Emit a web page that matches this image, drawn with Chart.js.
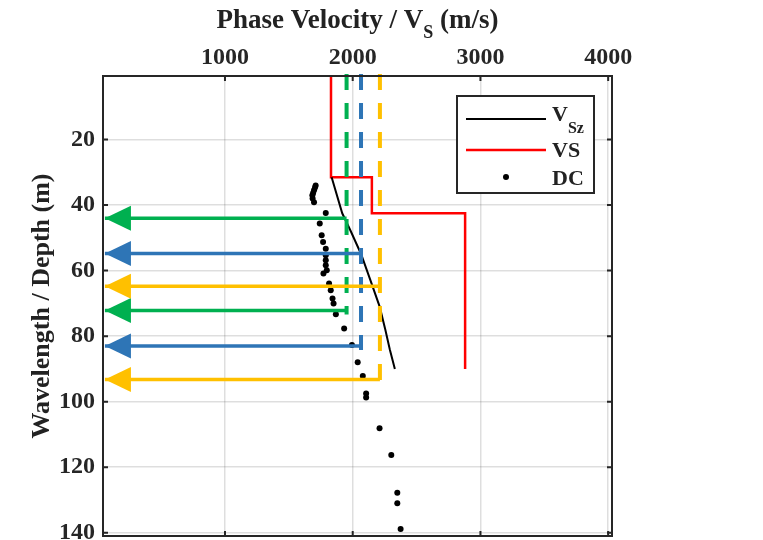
<!DOCTYPE html>
<html lang="en">
<head>
<meta charset="UTF-8">
<title>Phase Velocity / Wavelength</title>
<script src="https://cdn.jsdelivr.net/npm/chart.js"></script>
<style>
  body { margin: 0; background: #fff; overflow: hidden; }
  canvas { display: block; }
</style>
</head>
<body>
<canvas id="chart" width="763" height="540"></canvas>
<script>
// axis ticks
const velocityTicks = [1000, 2000, 3000, 4000];
const depthTicks = [20, 40, 60, 80, 100, 120, 140];

// VS step profile
const vsVelocity = [1830, 1830, 2150, 2150, 2880, 2880];
const vsDepth = [0.6, 31.5, 31.5, 42.5, 42.5, 90];

// VSz curve
const vszVelocity = [1835, 1918, 1985, 2066, 2139, 2211, 2255, 2290, 2330];
const vszDepth = [31.5, 42.5, 48, 55, 63, 71, 78, 84, 90];

// DC points
const dcVelocity = [1710, 1705, 1697, 1690, 1684, 1686, 1697, 1789, 1742, 1757, 1768, 1789, 1789, 1789,
  1789, 1797, 1771, 1815, 1828, 1842, 1850, 1868, 1933, 1994, 2039, 2079, 2105, 2105, 2210, 2302,
  2349, 2349, 2375];
const dcDepth = [34.0, 34.6, 35.5, 36.3, 37.0, 38.0, 39.1, 42.4, 45.6, 49.2, 51.3, 53.3, 55.3, 56.8,
  58.4, 59.9, 60.9, 63.9, 66.0, 68.5, 70.0, 73.3, 77.7, 82.7, 88.0, 92.2, 97.5, 98.7, 108.1, 116.3,
  127.8, 131.0, 138.9];

// guide lines: green, blue, yellow
const guideColors = ['#00b050', '#2e75b6', '#ffc000'];
const guideVelocity = [1952, 2065, 2213];
const guideArrowDepths = [[44, 72.2], [54.8, 83], [64.8, 93.2]];
const arrowTipVelocity = 60;

const FONT = "'Liberation Serif', 'Times New Roman', serif";
const INK = '#262626';

const pts = (xs, ys) => xs.map((x, i) => ({ x: x, y: ys[i] }));

const datasets = [
  { label: 'VS', data: pts(vsVelocity, vsDepth), showLine: true, borderColor: '#ff0000',
    borderWidth: 2.5, pointRadius: 0, order: 5 },
  { label: 'VSz', data: pts(vszVelocity, vszDepth), showLine: true, borderColor: '#000',
    borderWidth: 2, pointRadius: 0, order: 4 },
  { label: 'DC', data: pts(dcVelocity, dcDepth), showLine: false, backgroundColor: '#000',
    borderWidth: 0, pointRadius: 3, order: 3 }
];

guideVelocity.forEach((v, i) => {
  const depths = guideArrowDepths[i];
  const bottom = depths[depths.length - 1] + 1.2;
  datasets.push({
    label: 'guide' + i, data: [{ x: v, y: 0 }, { x: v, y: bottom }], showLine: true,
    borderColor: guideColors[i], borderWidth: 4, borderDash: [16, 13], pointRadius: 0,
    clip: false, order: 2
  });
  depths.forEach(d => {
    datasets.push({
      label: 'arrow' + i, data: [{ x: v, y: d }, { x: arrowTipVelocity, y: d }], showLine: true,
      borderColor: guideColors[i], borderWidth: 3.5, pointRadius: 0, arrowHead: true, order: 1
    });
  });
});

// arrowheads, frame with inward ticks, axis titles, legend
const decorations = {
  id: 'decorations',
  afterDatasetsDraw(chart) {
    const ctx = chart.ctx;
    chart.data.datasets.forEach((ds, i) => {
      if (!ds.arrowHead) return;
      const tip = chart.getDatasetMeta(i).data[1];
      ctx.save();
      ctx.fillStyle = ds.borderColor;
      ctx.beginPath();
      ctx.moveTo(tip.x, tip.y);
      ctx.lineTo(tip.x + 26, tip.y - 12.5);
      ctx.lineTo(tip.x + 26, tip.y + 12.5);
      ctx.closePath();
      ctx.fill();
      ctx.restore();
    });
  },
  afterDraw(chart) {
    const ctx = chart.ctx;
    const a = chart.chartArea;
    const xs = chart.scales.x, ys = chart.scales.y;
    ctx.save();

    // frame
    ctx.strokeStyle = INK;
    ctx.lineWidth = 2;
    ctx.strokeRect(a.left, a.top, a.right - a.left, a.bottom - a.top);
    ctx.beginPath();
    velocityTicks.forEach(v => {
      const px = xs.getPixelForValue(v);
      ctx.moveTo(px, a.top); ctx.lineTo(px, a.top + 5);
      ctx.moveTo(px, a.bottom); ctx.lineTo(px, a.bottom - 5);
    });
    depthTicks.forEach(d => {
      const py = ys.getPixelForValue(d);
      ctx.moveTo(a.left, py); ctx.lineTo(a.left + 5, py);
      ctx.moveTo(a.right, py); ctx.lineTo(a.right - 5, py);
    });
    ctx.stroke();

    // top title with subscript
    ctx.fillStyle = '#222';
    ctx.textBaseline = 'alphabetic';
    const main = 'Phase Velocity / V', tail = ' (m/s)', sub = 'S';
    ctx.font = 'bold 27px ' + FONT;
    const w1 = ctx.measureText(main).width, w3 = ctx.measureText(tail).width;
    ctx.font = 'bold 18px ' + FONT;
    const w2 = ctx.measureText(sub).width;
    let x = (a.left + a.right) / 2 - (w1 + w2 + w3) / 2;
    ctx.font = 'bold 27px ' + FONT;
    ctx.textAlign = 'left';
    ctx.fillText(main, x, 28);
    ctx.font = 'bold 18px ' + FONT;
    ctx.fillText(sub, x + w1, 38);
    ctx.font = 'bold 27px ' + FONT;
    ctx.fillText(tail, x + w1 + w2, 28);

    // left title
    ctx.save();
    ctx.translate(42, (a.top + a.bottom) / 2);
    ctx.rotate(-Math.PI / 2);
    ctx.textAlign = 'center';
    ctx.textBaseline = 'middle';
    ctx.font = 'bold 26px ' + FONT;
    ctx.fillText('Wavelength / Depth (m)', 0, 0);
    ctx.restore();

    // legend
    const bx = a.right - 155, by = a.top + 20, bw = 137, bh = 97;
    ctx.fillStyle = '#fff';
    ctx.fillRect(bx, by, bw, bh);
    ctx.strokeStyle = INK;
    ctx.lineWidth = 2;
    ctx.strokeRect(bx, by, bw, bh);
    const rows = [by + 23, by + 54, by + 81];
    ctx.lineWidth = 2;
    ctx.strokeStyle = '#000';
    ctx.beginPath(); ctx.moveTo(bx + 9, rows[0]); ctx.lineTo(bx + 89, rows[0]); ctx.stroke();
    ctx.strokeStyle = '#ff0000';
    ctx.lineWidth = 2.5;
    ctx.beginPath(); ctx.moveTo(bx + 9, rows[1]); ctx.lineTo(bx + 89, rows[1]); ctx.stroke();
    ctx.fillStyle = '#000';
    ctx.beginPath(); ctx.arc(bx + 49, rows[2], 3, 0, Math.PI * 2); ctx.fill();

    ctx.fillStyle = '#222';
    ctx.textAlign = 'left';
    ctx.textBaseline = 'alphabetic';
    ctx.font = 'bold 22px ' + FONT;
    const tx = bx + 95;
    ctx.fillText('V', tx, rows[0] + 2);
    const vw = ctx.measureText('V').width;
    ctx.font = 'bold 16px ' + FONT;
    ctx.fillText('Sz', tx + vw, rows[0] + 14);
    ctx.font = 'bold 22px ' + FONT;
    ctx.fillText('VS', tx, rows[1] + 7);
    ctx.fillText('DC', tx, rows[2] + 8);
    ctx.restore();
  }
};

new Chart(document.getElementById('chart'), {
  type: 'scatter',
  data: { datasets: datasets },
  options: {
    responsive: false,
    animation: false,
    layout: { autoPadding: false, padding: { left: 0, top: 0, right: 151, bottom: 4 } },
    plugins: { legend: { display: false }, tooltip: { enabled: false } },
    scales: {
      x: {
        type: 'linear', position: 'top', min: 45, max: 4030,
        afterBuildTicks: s => { s.ticks = velocityTicks.map(v => ({ value: v })); },
        afterFit: s => { s.height = 76; s.paddingLeft = 0; s.paddingRight = 0; },
        grid: { color: 'rgba(0,0,0,0.13)', lineWidth: 1.5, drawTicks: false },
        border: { display: false },
        ticks: { color: INK, padding: 4, callback: v => String(v),
          font: { family: FONT, size: 24, weight: 'bold' } }
      },
      y: {
        type: 'linear', reverse: true, min: 0.6, max: 141,
        afterBuildTicks: s => { s.ticks = depthTicks.map(v => ({ value: v })); },
        afterFit: s => { s.width = 103; s.paddingTop = 0; s.paddingBottom = 0; },
        grid: { color: 'rgba(0,0,0,0.13)', lineWidth: 1.5, drawTicks: false },
        border: { display: false },
        ticks: { color: INK, padding: 8, callback: v => String(v),
          font: { family: FONT, size: 24, weight: 'bold' } }
      }
    }
  },
  plugins: [decorations]
});
</script>
</body>
</html>
